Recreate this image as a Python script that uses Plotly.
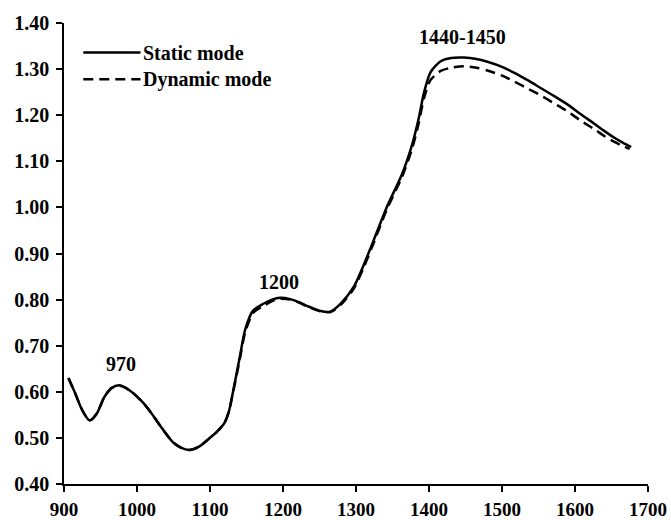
import plotly.graph_objects as go

# Wavelength (nm) and absorbance values
static_x = [906, 915, 925, 935, 945, 955, 965, 976, 990, 1008, 1020, 1031, 1049, 1060, 1072,
            1085, 1099, 1110, 1120, 1126, 1131, 1141, 1148, 1159, 1173, 1185, 1196, 1210,
            1221, 1235, 1250, 1265, 1280, 1297, 1310, 1324, 1342, 1363, 1377, 1386, 1393,
            1402, 1416, 1430, 1448, 1465, 1480, 1500, 1517, 1535, 1553, 1571, 1590, 1608,
            1627, 1640, 1654, 1666, 1677]
static_y = [0.630, 0.598, 0.560, 0.538, 0.553, 0.588, 0.608, 0.614, 0.603, 0.577, 0.553,
            0.528, 0.491, 0.479, 0.474, 0.481, 0.499, 0.514, 0.533, 0.558, 0.596, 0.677,
            0.734, 0.776, 0.791, 0.800, 0.804, 0.801, 0.795, 0.785, 0.776, 0.774, 0.793,
            0.828, 0.873, 0.928, 1.000, 1.072, 1.137, 1.194, 1.248, 1.293, 1.317, 1.324,
            1.325, 1.322, 1.316, 1.305, 1.292, 1.276, 1.259, 1.242, 1.223, 1.202, 1.181,
            1.166, 1.151, 1.140, 1.131]

dynamic_x = [906, 915, 925, 935, 945, 955, 965, 976, 990, 1008, 1020, 1031, 1049, 1060, 1072,
             1085, 1099, 1110, 1120, 1126, 1131, 1141, 1148, 1159, 1173, 1185, 1196, 1210,
             1221, 1235, 1250, 1265, 1280, 1297, 1310, 1324, 1342, 1363, 1377, 1386, 1393,
             1402, 1416, 1430, 1448, 1465, 1480, 1500, 1517, 1535, 1553, 1571, 1590, 1608,
             1627, 1640, 1654, 1666, 1675]
dynamic_y = [0.630, 0.598, 0.560, 0.538, 0.553, 0.588, 0.608, 0.613, 0.603, 0.577, 0.553,
             0.528, 0.491, 0.479, 0.474, 0.481, 0.499, 0.514, 0.533, 0.558, 0.594, 0.672,
             0.728, 0.771, 0.786, 0.797, 0.802, 0.800, 0.794, 0.784, 0.775, 0.773, 0.790,
             0.824, 0.868, 0.922, 0.995, 1.066, 1.128, 1.183, 1.236, 1.276, 1.296, 1.303,
             1.306, 1.303, 1.297, 1.286, 1.273, 1.258, 1.243, 1.226, 1.208, 1.188, 1.169,
             1.155, 1.142, 1.133, 1.127]

series_names = ["Static mode", "Dynamic mode"]
peak_labels = ["970", "1200", "1440-1450"]
peak_x = [978, 1195, 1446]
peak_y = [0.661, 0.838, 1.370]

x_ticks = [900, 1000, 1100, 1200, 1300, 1400, 1500, 1600, 1700]
y_ticks = [0.40, 0.50, 0.60, 0.70, 0.80, 0.90, 1.00, 1.10, 1.20, 1.30, 1.40]

FONT = "Liberation Serif"
FS = 20
DASH = "10px,6px"

fig = go.Figure()
fig.add_trace(go.Scatter(x=static_x, y=static_y, mode="lines", name=series_names[0],
                         line=dict(color="black", width=2.5, shape="spline", smoothing=0.7),
                         showlegend=False))
fig.add_trace(go.Scatter(x=dynamic_x, y=dynamic_y, mode="lines", name=series_names[1],
                         line=dict(color="black", width=2.5, dash=DASH,
                                   shape="spline", smoothing=0.7),
                         showlegend=False))

for t, xv, yv in zip(peak_labels, peak_x, peak_y):
    fig.add_annotation(x=xv, y=yv, text="<b>%s</b>" % t, showarrow=False,
                       font=dict(family=FONT, size=FS, color="black"))

# manual legend
leg_y = [0.936, 0.878]
leg_dash = ["solid", DASH]
for name, ly, d in zip(series_names, leg_y, leg_dash):
    fig.add_shape(type="line", xref="paper", yref="paper", x0=0.033, x1=0.131, y0=ly, y1=ly,
                  line=dict(color="black", width=2.5, dash=d))
    fig.add_annotation(xref="paper", yref="paper", x=0.132, y=ly, xanchor="left",
                       yanchor="middle", text="<b>%s</b>" % name, showarrow=False,
                       font=dict(family=FONT, size=FS, color="black"))

fig.update_layout(
    width=671, height=520,
    margin=dict(l=63.5, r=23.3, t=23.3, b=35.7),
    plot_bgcolor="white", paper_bgcolor="white",
    font=dict(family=FONT, size=FS, color="black"),
    xaxis=dict(range=[900, 1700], tickvals=x_ticks, ticktext=["<b>%d</b>" % v for v in x_ticks],
               showgrid=False, zeroline=False, showline=True, linecolor="black", linewidth=1.5,
               ticks="outside", ticklen=6, tickwidth=1.5, tickcolor="black",
               tickfont=dict(family=FONT, size=19, color="black"),
               ticklabelstandoff=1, automargin=False),
    yaxis=dict(range=[0.40, 1.40], tickvals=y_ticks, ticktext=["<b>%.2f</b>" % v for v in y_ticks],
               showgrid=False, zeroline=False, showline=True, linecolor="black", linewidth=1.5,
               ticks="outside", ticklen=6, tickwidth=1.5, tickcolor="black",
               ticklabelstandoff=3, automargin=False),
)

fig.write_html("out.html")
